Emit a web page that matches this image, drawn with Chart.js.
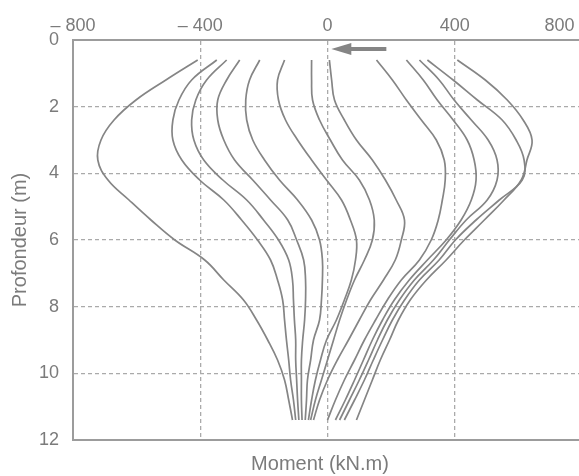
<!DOCTYPE html>
<html>
<head>
<meta charset="utf-8">
<script src="https://cdn.jsdelivr.net/npm/chart.js@4.4.1/dist/chart.umd.min.js"></script>
<style>
  html, body { margin: 0; padding: 0; background: #ffffff; overflow: hidden; }
  #wrap { width: 640px; height: 476px; }
</style>
</head>
<body>
<div id="wrap"><canvas id="chart" width="640" height="476"></canvas></div>
<script>
// Depth levels (m) at which each bending-moment profile is read
const depths = [0.6, 1.2, 1.8, 2.4, 3.0, 3.6, 4.2, 4.8, 5.4, 6.0, 6.6, 7.2, 7.8, 8.4, 9.0, 9.6, 10.2, 10.8, 11.4];

// Bending moment profiles (kN.m), one per loading stage
const curve01 = [-408, -508, -602, -671, -712, -722, -690, -624, -555, -480, -386, -326, -264, -223, -188, -157, -135, -122, -110];
const curve02 = [-348, -427, -467, -486, -486, -458, -402, -326, -270, -220, -179, -157, -141, -135, -129, -122, -116, -107, -100];
const curve03 = [-317, -380, -414, -427, -420, -389, -329, -254, -201, -154, -122, -110, -107, -104, -100, -100, -97, -94, -90];
const curve04 = [-276, -317, -345, -345, -326, -292, -235, -179, -125, -97, -75, -69, -69, -72, -78, -82, -82, -82, -80];
const curve05 = [-213, -245, -257, -254, -235, -198, -151, -94, -50, -25, -16, -16, -19, -25, -44, -53, -63, -66, -70];
const curve06 = [-135, -157, -154, -132, -94, -50, -3, 44, 72, 91, 88, 75, 53, 28, -3, -22, -38, -50, -60];
const curve07 = [-50, -50, -47, -25, 9, 47, 100, 132, 147, 141, 116, 85, 60, 38, 19, 0, -19, -38, -53];
const curve08 = [6, 13, 22, 53, 91, 141, 182, 216, 242, 232, 213, 176, 135, 100, 66, 31, 0, -25, -44];
const curve09 = [154, 204, 248, 295, 342, 367, 370, 361, 348, 326, 289, 232, 188, 151, 116, 85, 53, 25, 0];
const curve10 = [248, 301, 345, 395, 439, 461, 467, 452, 420, 373, 314, 257, 210, 173, 141, 113, 85, 56, 25];
const curve11 = [289, 351, 398, 452, 505, 533, 533, 502, 436, 383, 333, 273, 226, 188, 157, 129, 100, 69, 38];
const curve12 = [314, 395, 471, 549, 593, 618, 612, 540, 467, 402, 351, 289, 242, 204, 173, 144, 116, 85, 53];
const curve13 = [408, 496, 565, 615, 643, 627, 609, 555, 493, 430, 373, 311, 260, 223, 195, 166, 141, 116, 91];

const curves = [curve01, curve02, curve03, curve04, curve05, curve06, curve07,
                curve08, curve09, curve10, curve11, curve12, curve13];

// Axis ticks
const momentTicks = [-800, -400, 0, 400, 800];
const depthTicks = [0, 2, 4, 6, 8, 10, 12];

// Direction-of-loading arrow near the pile head: from / to moment, at this depth
const arrowMoments = [185, 12];
const arrowDepth = 0.27;

const INK = '#7b7b7b';
const LINE = '#858585';
const AXIS = '#9c9c9c';
const GRID = '#aaaaaa';
const FONT = "'Liberation Sans', Arial, Helvetica, sans-serif";

const datasets = curves.map(values => ({
  data: values.map((m, i) => ({ x: m, y: depths[i] })),
  showLine: true,
  borderColor: LINE,
  borderWidth: 1.7,
  pointRadius: 0,
  tension: 0.4,
  fill: false
}));

const arrowPlugin = {
  id: 'loadArrow',
  afterDatasetsDraw(chart) {
    const xs = chart.scales.x, ys = chart.scales.y;
    const xTail = xs.getPixelForValue(arrowMoments[0]);
    const xTip = xs.getPixelForValue(arrowMoments[1]);
    const yy = ys.getPixelForValue(arrowDepth);
    const headLen = 20, headHalf = 6;
    const ctx = chart.ctx;
    ctx.save();
    ctx.strokeStyle = LINE;
    ctx.fillStyle = LINE;
    ctx.lineWidth = 4;
    ctx.beginPath();
    ctx.moveTo(xTail, yy);
    ctx.lineTo(xTip + headLen - 2, yy);
    ctx.stroke();
    ctx.beginPath();
    ctx.moveTo(xTip, yy);
    ctx.lineTo(xTip + headLen, yy - headHalf);
    ctx.lineTo(xTip + headLen, yy + headHalf);
    ctx.closePath();
    ctx.fill();
    ctx.restore();
  }
};

// Last moment label is padded so it stays inside the page
function momentLabel(v, i, ticks) {
  const txt = v < 0 ? '\u2013 ' + Math.abs(v) : String(v);
  return i === ticks.length - 1 ? txt + '\u2002\u2002\u2002\u2002\u2002' : txt;
}

new Chart(document.getElementById('chart'), {
  type: 'scatter',
  data: { datasets },
  plugins: [arrowPlugin],
  options: {
    responsive: false,
    animation: false,
    layout: { padding: 0 },
    plugins: {
      legend: { display: false },
      tooltip: { enabled: false },
      title: {
        display: true,
        position: 'bottom',
        text: 'Moment (kN.m)',
        color: INK,
        font: { family: FONT, size: 20, weight: 'normal', lineHeight: 1.2 },
        padding: { top: 12, bottom: 0 }
      }
    },
    scales: {
      x: {
        type: 'linear',
        position: 'top',
        min: -800,
        max: 800,
        afterBuildTicks: s => { s.ticks = momentTicks.map(v => ({ value: v })); },
        afterFit: s => { s.height = 40; s.paddingLeft = 0; s.paddingRight = 0; },
        ticks: {
          color: INK,
          font: { family: FONT, size: 18 },
          padding: 3,
          maxRotation: 0,
          callback: momentLabel
        },
        grid: { color: GRID, lineWidth: 1.3, drawTicks: false },
        border: { display: true, color: AXIS, width: 2, dash: [4, 3] }
      },
      xBottom: {
        type: 'linear',
        position: 'bottom',
        min: -800,
        max: 800,
        afterFit: s => { s.height = 0; s.paddingLeft = 0; s.paddingRight = 0; },
        ticks: { display: false },
        grid: { display: false, drawTicks: false },
        border: { display: true, color: AXIS, width: 2 }
      },
      y: {
        type: 'linear',
        position: 'left',
        reverse: true,
        min: 0,
        max: 12,
        afterBuildTicks: s => { s.ticks = depthTicks.map(v => ({ value: v })); },
        afterFit: s => { s.width = 73; },
        ticks: {
          color: INK,
          font: { family: FONT, size: 18 },
          padding: 14
        },
        title: {
          display: true,
          text: 'Profondeur (m)',
          color: INK,
          font: { family: FONT, size: 20, lineHeight: 1.2 },
          padding: { top: 8, bottom: 0 }
        },
        grid: { color: GRID, lineWidth: 1.3, drawTicks: false },
        border: { display: true, color: AXIS, width: 2, dash: [4, 3] }
      },
      yRight: {
        type: 'linear',
        position: 'right',
        min: 0,
        max: 12,
        afterFit: s => { s.width = 58; },
        ticks: { display: false },
        grid: { display: false, drawTicks: false },
        border: { display: false }
      }
    }
  }
});
</script>
</body>
</html>
